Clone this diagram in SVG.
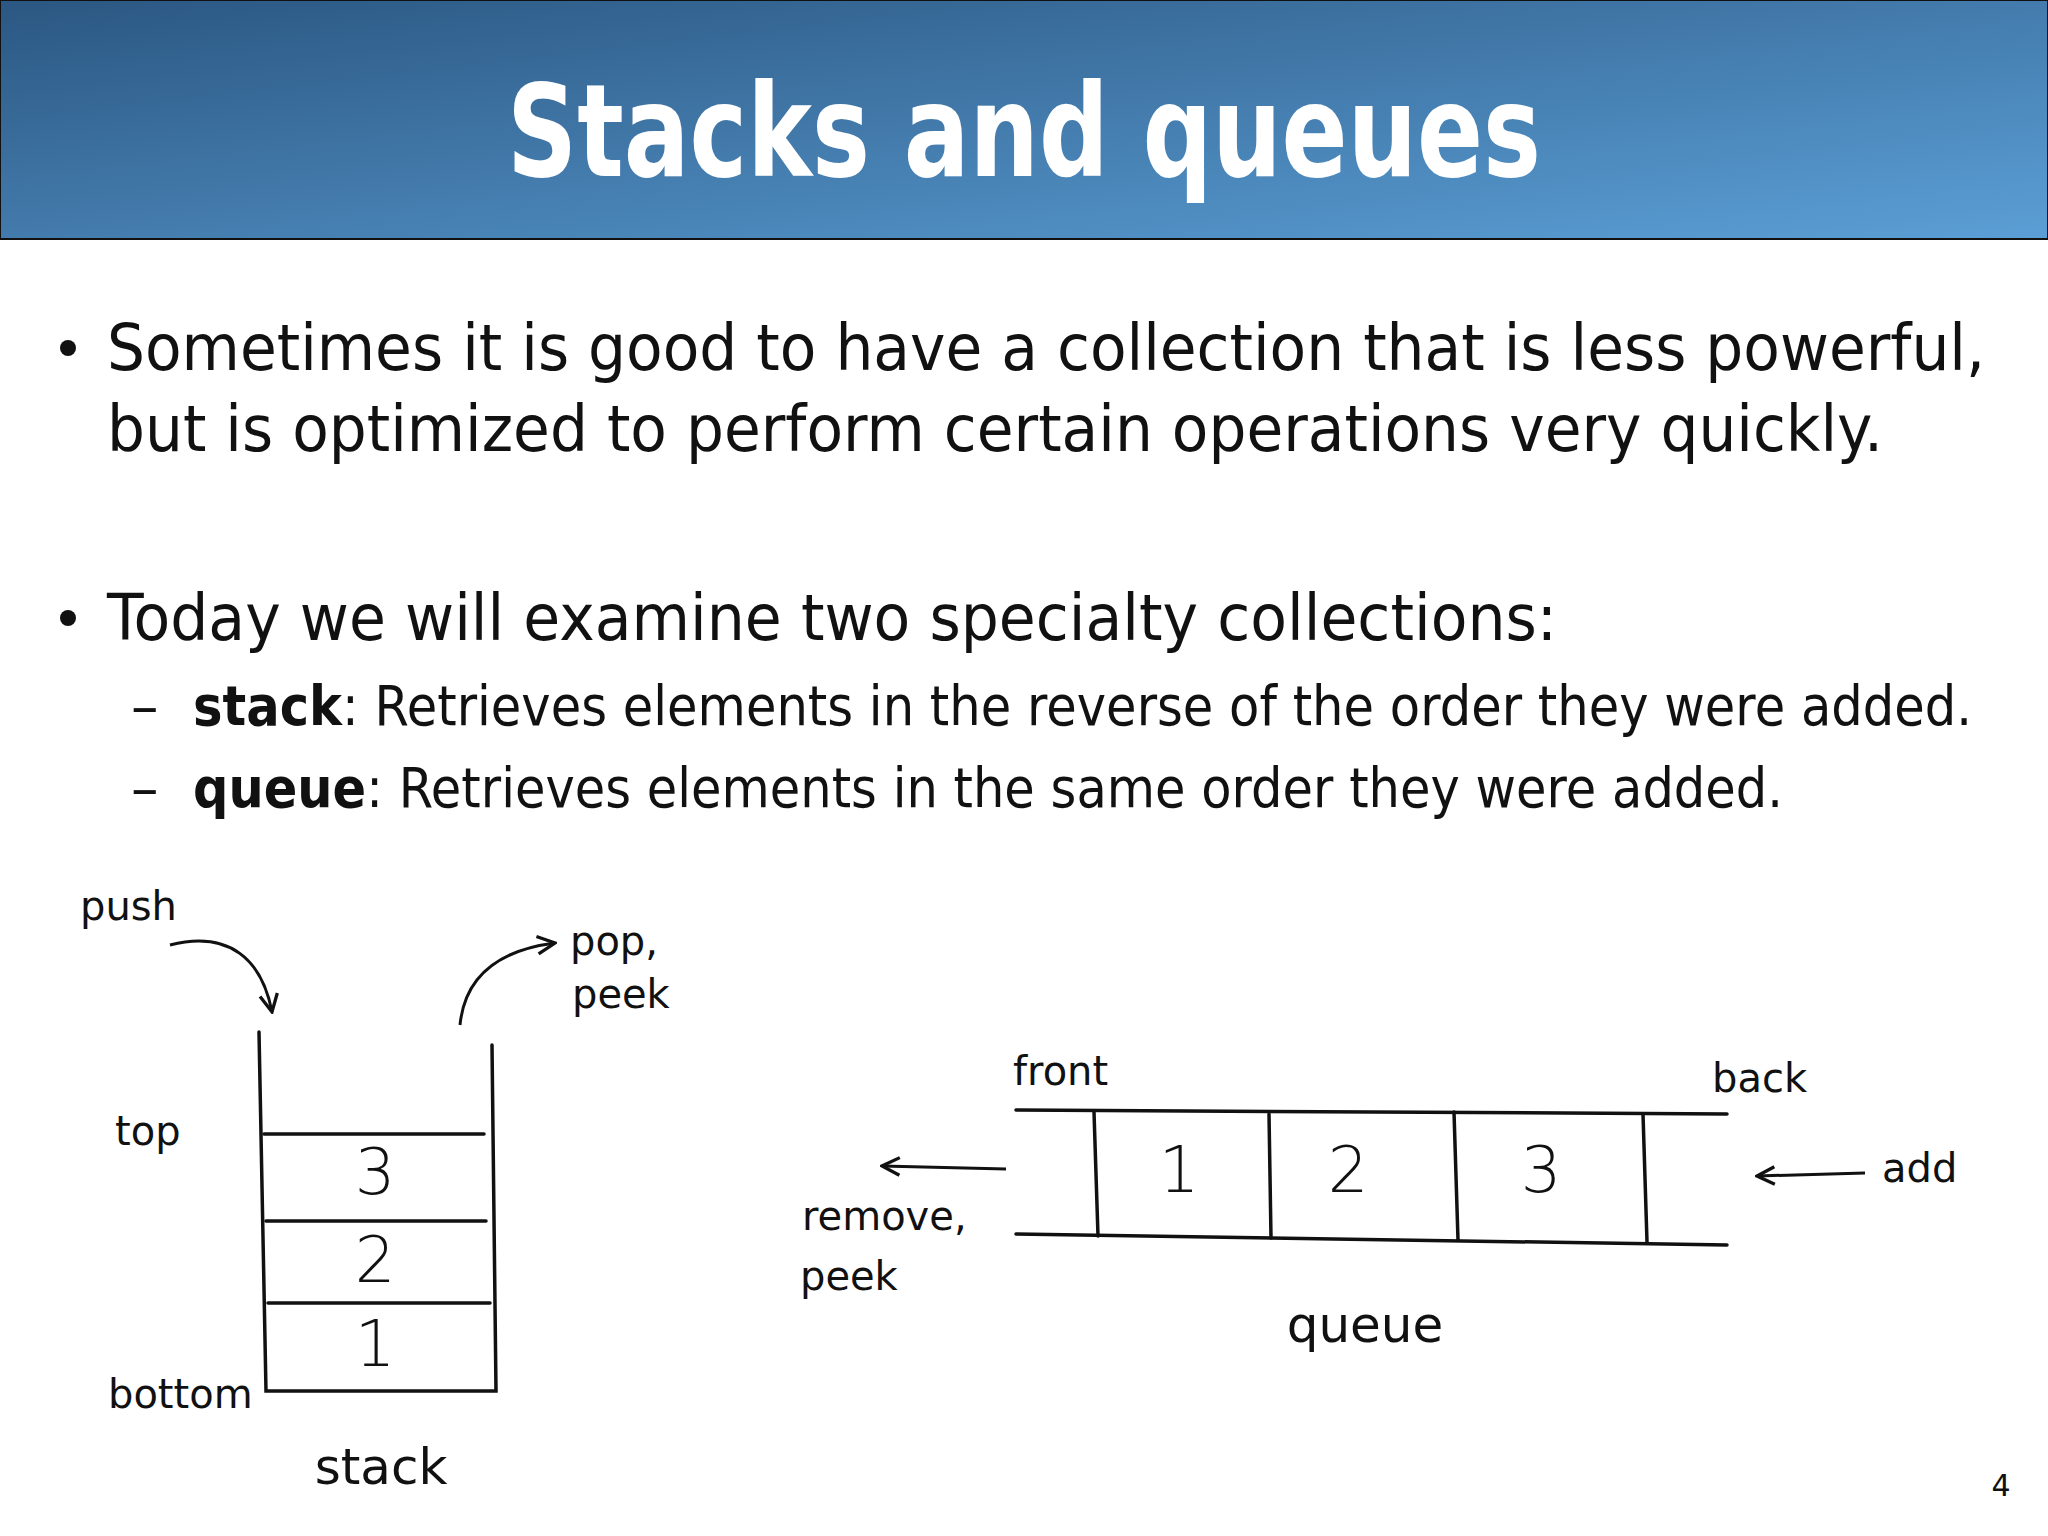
<svg xmlns="http://www.w3.org/2000/svg" width="2048" height="1536" viewBox="0 0 2048 1536">
<defs>
<linearGradient id="g" x1="0" y1="0" x2="1" y2="1">
<stop offset="0" stop-color="#2b5782"/><stop offset="1" stop-color="#5b9fd6"/>
</linearGradient>
<marker id="ah" viewBox="0 0 20 20" refX="18" refY="10" markerWidth="22" markerHeight="22" markerUnits="userSpaceOnUse" orient="auto">
<path d="M2,2 L18,10 L2,18" fill="none" stroke="#111" stroke-width="3"/>
</marker>
<style>
.t{font-family:"DejaVu Sans",Verdana,sans-serif;fill:#111}
.h{font-family:"DejaVu Sans",sans-serif;fill:#111;font-size:40px}
.n{font-family:"DejaVu Sans",sans-serif;fill:#111;font-size:64px;font-weight:300;text-anchor:middle}
.s{fill:none;stroke:#111;stroke-width:3.5;stroke-linecap:round}
.a{fill:none;stroke:#111;stroke-width:3;marker-end:url(#ah)}
</style>
</defs>
<rect width="2048" height="1536" fill="#fff"/>
<rect x="0" y="0" width="2048" height="239" fill="url(#g)" stroke="#111" stroke-width="2"/>
<text x="1024" y="176" text-anchor="middle" font-family="DejaVu Sans,sans-serif" font-weight="bold" font-size="128" fill="#fff" textLength="1034" lengthAdjust="spacingAndGlyphs">Stacks and queues</text>

<g class="t" font-size="64">
<circle cx="68" cy="348" r="8" fill="#111"/>
<text x="107" y="370" textLength="1878" lengthAdjust="spacingAndGlyphs">Sometimes it is good to have a collection that is less powerful,</text>
<text x="107" y="451" textLength="1776" lengthAdjust="spacingAndGlyphs">but is optimized to perform certain operations very quickly.</text>
<circle cx="68" cy="618" r="8" fill="#111"/>
<text x="107" y="640" textLength="1450" lengthAdjust="spacingAndGlyphs">Today we will examine two specialty collections:</text>
</g>
<g class="t" font-size="55">
<text x="131" y="725">–</text>
<text x="193" y="725" textLength="1779" lengthAdjust="spacingAndGlyphs"><tspan font-weight="bold">stack</tspan>: Retrieves elements in the reverse of the order they were added.</text>
<text x="131" y="807">–</text>
<text x="193" y="807" textLength="1590" lengthAdjust="spacingAndGlyphs"><tspan font-weight="bold">queue</tspan>: Retrieves elements in the same order they were added.</text>
</g>

<g id="stack">
<path class="s" d="M259,1032 L266,1391 L496,1391 L492,1045"/>
<path class="s" d="M264,1134 L484,1134 M266,1221 L486,1221 M268,1303 L490,1303"/>
<text class="n" x="375" y="1194">3</text>
<text class="n" x="375" y="1282">2</text>
<text class="n" x="375" y="1366">1</text>
<text class="h" x="115" y="1145">top</text>
<text class="h" x="108" y="1408">bottom</text>
<text class="t" x="381" y="1484" font-size="50" text-anchor="middle">stack</text>
</g>
<g id="push"><text class="h" x="80" y="920">push</text></g>
<g id="pop"><text class="h" x="570" y="955">pop,</text><text class="h" x="572" y="1008">peek</text></g>

<g id="queue">
<path class="s" d="M1016,1110 L1727,1114 M1016,1234 L1727,1245"/>
<path class="s" d="M1094,1112 L1098,1236 M1269,1114 L1271,1238 M1454,1112 L1458,1240 M1643,1114 L1647,1242"/>
<text class="n" x="1179" y="1192">1</text>
<text class="n" x="1348" y="1192">2</text>
<text class="n" x="1541" y="1192">3</text>
<text class="t" x="1365" y="1342" font-size="50" text-anchor="middle">queue</text>
</g>
<g id="front"><text class="h" x="1013" y="1085">front</text></g>
<g id="back"><text class="h" x="1712" y="1092">back</text></g>
<g id="remove"><text class="h" x="802" y="1230">remove,</text><text class="h" x="800" y="1290">peek</text></g>
<g id="add"><text class="h" x="1882" y="1182">add</text></g>

<g id="connectors">
<path class="a" d="M170,945 C230,930 262,960 272,1012"/>
<path class="a" d="M460,1025 C465,975 500,950 555,943"/>
<path class="a" d="M1006,1169 L882,1166"/>
<path class="a" d="M1865,1173 L1757,1176"/>
</g>
<text class="t" x="2001" y="1496" font-size="30" text-anchor="middle" fill="#555">4</text>
</svg>
